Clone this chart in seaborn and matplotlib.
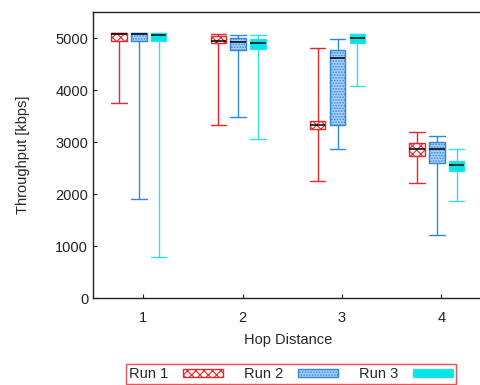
import matplotlib
matplotlib.use("Agg")
import matplotlib.pyplot as plt
from matplotlib.patches import Patch
import numpy as np
import pandas as pd
import seaborn as sns

hops = ["1", "2", "3", "4"]
runs = ["Run 1", "Run 2", "Run 3"]

# five-number summaries (kbps)
run1_low = [3750, 3327, 2250, 2217]
run1_q1 = [4942, 4910, 3244, 2737]
run1_med = [5077, 4948, 3333, 2860]
run1_q3 = [5096, 5038, 3398, 2975]
run1_high = [5096, 5083, 4813, 3192]

run2_low = [1904, 3481, 2865, 1212]
run2_q1 = [4952, 4783, 3321, 2590]
run2_med = [5077, 4923, 4629, 2865]
run2_q3 = [5096, 5013, 4783, 3006]
run2_high = [5096, 5063, 4987, 3115]

run3_low = [788, 3058, 4090, 1871]
run3_q1 = [4942, 4794, 4910, 2448]
run3_med = [5063, 4910, 5006, 2552]
run3_q3 = [5096, 4994, 5077, 2629]
run3_high = [5096, 5063, 5077, 2860]

stats = {
    "Run 1": (run1_low, run1_q1, run1_med, run1_q3, run1_high),
    "Run 2": (run2_low, run2_q1, run2_med, run2_q3, run2_high),
    "Run 3": (run3_low, run3_q1, run3_med, run3_q3, run3_high),
}

rows = []
for run, cols in stats.items():
    for i, hop in enumerate(hops):
        for arr in cols:
            rows.append({"hop": hop, "run": run, "kbps": arr[i]})
df = pd.DataFrame(rows)

edge_colors = {"Run 1": "#e8262a", "Run 2": "#2f86e0", "Run 3": "#30e0e8"}
face_colors = {"Run 1": "white", "Run 2": "#a9d0f7", "Run 3": "#00e6e6"}
hatches = {"Run 1": "xxxx", "Run 2": "......", "Run 3": None}

sns.set_theme(style="ticks")
plt.rcParams["font.family"] = ["Liberation Sans", "DejaVu Sans"]
plt.rcParams["hatch.linewidth"] = 0.8

fig = plt.figure(figsize=(4.81, 3.85), dpi=100)
ax = fig.add_axes([93 / 481, 87 / 385, 390 / 481, 285.7 / 385])

sns.boxplot(
    data=df, x="hop", y="kbps", hue="run", hue_order=runs, order=hops,
    palette=face_colors, width=0.6, gap=0.22, whis=(0, 100),
    linewidth=1.0, fliersize=0, legend=False, ax=ax,
)

for cont, run in zip(ax.containers, runs):
    ec = edge_colors[run]
    for b in cont.boxes:
        b.set_facecolor(face_colors[run])
        b.set_edgecolor(ec)
        b.set_linewidth(1.0)
        if hatches[run]:
            b.set_hatch(hatches[run])
    for ln in list(cont.whiskers) + list(cont.caps):
        ln.set_color(ec)
        ln.set_linewidth(1.0)
    for ln in cont.caps:
        xd = ln.get_xdata()
        c = (xd[0] + xd[1]) / 2
        ln.set_xdata([c - 0.078, c + 0.078])
    for ln in cont.medians:
        ln.set_color("black")
        ln.set_linewidth(1.1)

ax.set_ylim(0, 5500)
ax.set_yticks([0, 1000, 2000, 3000, 4000, 5000])
ax.set_xticks(np.arange(len(hops)) + 0.045)
ax.set_xticklabels(hops)
ax.set_xlim(-0.462, 3.465)
ax.tick_params(direction="in", length=3, width=0.8, labelsize=10.5, colors="#222222")
ax.tick_params(axis="x", pad=9)
for s in ax.spines.values():
    s.set_linewidth(1.0)
    s.set_color("#222222")
ax.spines["right"].set_visible(False)
ax.set_xlabel("Hop Distance", fontsize=10.5, labelpad=6)
ax.set_ylabel("Throughput [kbps]", fontsize=10.5, labelpad=18)

handles = [
    Patch(facecolor=face_colors[r], edgecolor=edge_colors[r], hatch=hatches[r], linewidth=1.0)
    for r in runs
]
leg = fig.legend(
    handles, runs, loc="center", bbox_to_anchor=(0.605, 0.028), ncol=3,
    markerfirst=False, frameon=True, fancybox=False, fontsize=10.5,
    handlelength=2.7, handleheight=0.5, columnspacing=1.5, handletextpad=1.0,
    borderpad=0.2, borderaxespad=0,
)
leg.get_frame().set_edgecolor("#e8262a")
leg.get_frame().set_linewidth(1.0)

fig.savefig("out.png", dpi=100)
